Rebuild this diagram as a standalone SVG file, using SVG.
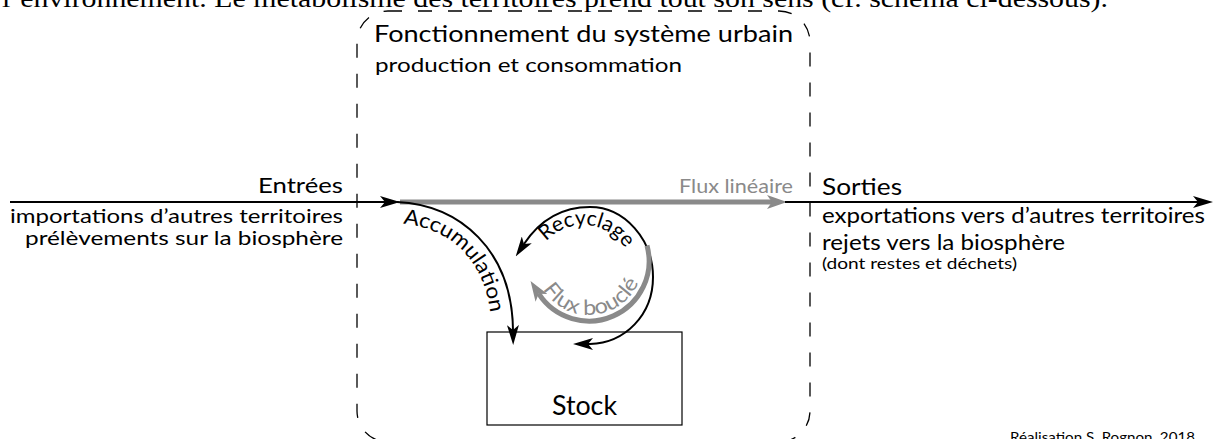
<svg xmlns="http://www.w3.org/2000/svg" width="1215" height="439" viewBox="0 0 1215 439">
  <style>
    .sans { font-family: "Lato", "Noto Sans", sans-serif; fill: #000; }
    .serif { font-family: "Liberation Serif", serif; fill: #000; }
    .grey { fill: #8a8a8a; }
    .line { fill: none; stroke: #000; stroke-width: 2; }
    .thick { fill: none; stroke: #8a8a8a; stroke-width: 5; }
    .frame { fill: none; stroke: #000; stroke-width: 1.3; stroke-dasharray: 14 16; }
  </style>
  <defs>
    <marker id="ah" markerUnits="userSpaceOnUse" viewBox="0 0 20 12" markerWidth="20" markerHeight="12" refX="5" refY="6" orient="auto-start-reverse">
      <path d="M0,0 L20,6 L0,12 L5,6 z" fill="#000"/>
    </marker>
    <marker id="ahGrey" markerUnits="userSpaceOnUse" viewBox="0 0 20 14" markerWidth="20" markerHeight="14" refX="5" refY="7" orient="auto-start-reverse">
      <path d="M0,0 L20,7 L0,14 L5,7 z" fill="#8a8a8a"/>
    </marker>
    <!-- guide paths for curved labels -->
    <path id="pAccum" d="M395,223 C452,226 491,262 492,335"/>
    <path id="pRecyc" d="M536,257.9 A50,50 0 0 1 632.2,266.3"/>
    <path id="pBoucle" d="M539.7,283 A54,54 0 0 0 640.9,275.9"/>
  </defs>

  <!-- running text of the page above the figure -->
  <text class="serif" x="2" y="7" font-size="26" textLength="1106" lengthAdjust="spacingAndGlyphs">l’environnement. Le métabolisme des territoires prend tout son sens (cf. schéma ci-dessous).</text>

  <!-- urban system boundary -->
  <g id="systeme">
    <rect class="frame" x="357" y="11" width="453" height="431" rx="31" ry="31"/>
    <text class="sans" x="374" y="42" font-size="24" textLength="419" lengthAdjust="spacingAndGlyphs">Fonctionnement du système urbain</text>
    <text class="sans" x="375" y="72" font-size="20" textLength="307" lengthAdjust="spacingAndGlyphs">production et consommation</text>
  </g>

  <g id="entrees">
    <text class="sans" x="343" y="193" font-size="22" text-anchor="end" textLength="85" lengthAdjust="spacingAndGlyphs">Entrées</text>
    <text class="sans" x="343" y="223" font-size="20" text-anchor="end" textLength="333" lengthAdjust="spacingAndGlyphs">importations d’autres territoires</text>
    <text class="sans" x="343" y="245" font-size="20" text-anchor="end" textLength="318" lengthAdjust="spacingAndGlyphs">prélèvements sur la biosphère</text>
  </g>

  <g id="sorties">
    <text class="sans" x="822" y="195" font-size="23" textLength="80" lengthAdjust="spacingAndGlyphs">Sorties</text>
    <text class="sans" x="822" y="223" font-size="21" textLength="383" lengthAdjust="spacingAndGlyphs">exportations vers d’autres territoires</text>
    <text class="sans" x="822" y="250" font-size="21" textLength="243" lengthAdjust="spacingAndGlyphs">rejets vers la biosphère</text>
    <text class="sans" x="822" y="269" font-size="14.5" textLength="195" lengthAdjust="spacingAndGlyphs">(dont restes et déchets)</text>
  </g>

  <g id="stock">
    <rect x="487" y="332" width="195" height="93" fill="#fff" stroke="#000" stroke-width="1.2"/>
    <text class="sans" x="584.5" y="415" font-size="26" text-anchor="middle" textLength="65" lengthAdjust="spacingAndGlyphs">Stock</text>
  </g>

  <g id="connecteurs">
    <!-- inputs -->
    <path class="line" d="M10,202 L385,202" marker-end="url(#ah)"/>
    <!-- linear flow -->
    <path class="thick" d="M400,202 L772,202" marker-end="url(#ahGrey)"/>
    <!-- outputs -->
    <path class="line" d="M785,202 L1198,202" marker-end="url(#ah)"/>
    <!-- accumulation towards the stock -->
    <path class="line" d="M397,202 C460,205 512,250 513,330" marker-end="url(#ah)"/>
    <!-- recycling loop -->
    <path class="line" d="M524,244 C540,220 562,207 590,207 C625,207 653,240 653,277 C653,315 625,343 590,344 L588,344" marker-start="url(#ah)" marker-end="url(#ah)"/>
    <!-- looped flow -->
    <path class="thick" d="M647,245.5 A60,60 0 0 1 538.7,293.7" marker-end="url(#ahGrey)"/>
  </g>

  <g id="etiquettes">
    <text class="sans grey" x="793" y="193" font-size="19" text-anchor="end" textLength="114" lengthAdjust="spacingAndGlyphs">Flux linéaire</text>
    <text class="sans" font-size="21"><textPath href="#pAccum" startOffset="8" textLength="136" lengthAdjust="spacingAndGlyphs">Accumulation</textPath></text>
    <text class="sans" font-size="21"><textPath href="#pRecyc" startOffset="50%" text-anchor="middle" textLength="92" lengthAdjust="spacingAndGlyphs">Recyclage</textPath></text>
    <text class="sans grey" font-size="21"><textPath href="#pBoucle" startOffset="50%" text-anchor="middle" textLength="118" lengthAdjust="spacingAndGlyphs">Flux bouclé</textPath></text>
  </g>

  <text class="sans" x="1010" y="442" font-size="14" textLength="185" lengthAdjust="spacingAndGlyphs">Réalisation S. Rognon, 2018</text>
</svg>
